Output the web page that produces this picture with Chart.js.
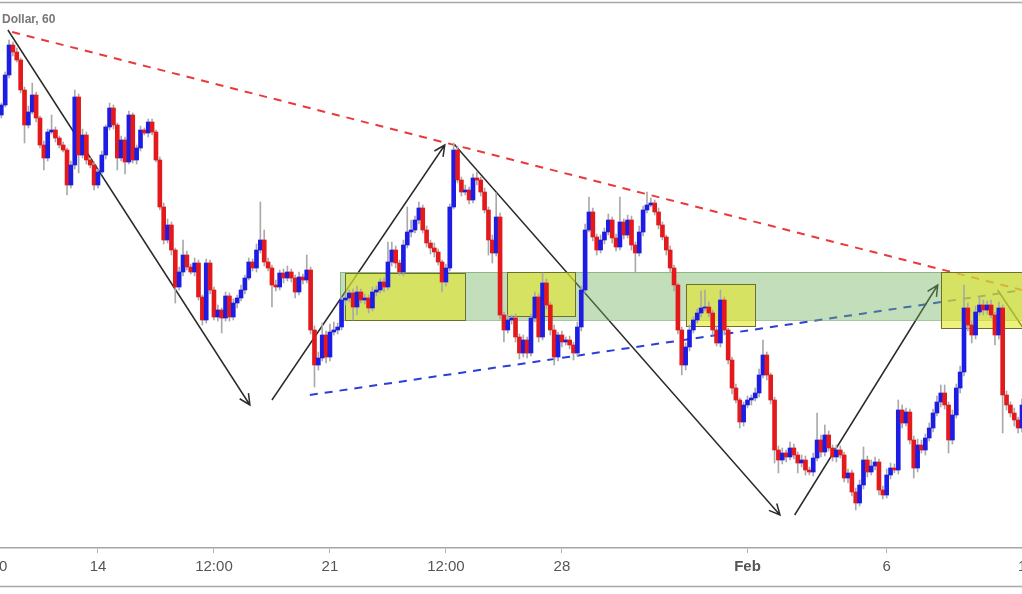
<!DOCTYPE html>
<html>
<head>
<meta charset="utf-8">
<script src="https://cdn.jsdelivr.net/npm/chart.js@4.4.1/dist/chart.umd.min.js"></script>
<style>
  html, body { margin: 0; padding: 0; background: #fff; }
  #wrap { width: 1022px; height: 594px; }
</style>
</head>
<body>
<div id="wrap"><canvas id="chart" width="1022" height="594"></canvas></div>
<script>
// x = 2h candle index (12 per trading day), y = price level
const tickPositions = [-0.6, 25, 55, 85, 115, 145, 193, 229, 265];
const tickLabels = ["10", "14", "12:00", "21", "12:00", "28", "Feb", "6", "11"];

const firstOpen = 485;
const closes = [
  495,525,555,548,540,510,475,488,505,482,455,442,468,470,462,455,450,415,435,503,
  445,465,440,435,415,428,445,473,492,475,442,460,438,485,440,452,470,467,478,468,
  440,393,360,375,350,313,328,345,333,328,337,303,280,337,310,283,290,282,304,283,
  297,302,310,322,338,332,350,360,338,332,315,313,327,322,328,322,308,323,320,330,
  270,235,242,265,243,268,270,273,300,302,307,293,308,300,302,292,308,310,318,313,
  338,350,337,328,355,368,370,380,392,370,357,352,348,338,318,332,393,450,420,408,
  410,400,422,420,408,390,360,347,383,285,270,280,282,263,247,260,247,282,303,263,
  317,295,270,243,265,258,260,255,247,273,310,370,388,363,350,360,368,380,362,353,
  378,365,380,355,347,368,390,395,397,388,375,363,350,332,315,270,235,253,270,280,
  287,292,293,287,270,257,300,270,240,212,200,178,195,200,202,207,225,245,225,200,
  150,140,147,143,152,145,137,140,130,128,142,160,148,165,152,143,150,145,122,127,
  108,97,115,140,128,134,138,110,105,125,132,130,190,177,188,160,132,155,150,162,
  172,187,198,207,195,160,185,212,228,292,275,265,288,295,290,295,285,265,292,205,
  195,187,180,172,195
];
const wickUp = [
  2,3,5,3,4,2,3,6,12,3,2,4,3,15,3,2,3,2,4,7,
  3,6,3,2,3,3,4,2,5,3,2,4,3,4,2,3,4,2,3,3,
  2,3,4,6,3,2,5,15,4,3,5,3,2,4,3,3,5,2,4,3,
  4,3,5,3,4,3,6,38,10,4,3,5,3,4,6,3,3,5,3,15,
  3,4,6,12,4,8,8,4,3,5,3,4,6,3,4,3,5,4,3,4,
  20,8,4,3,5,25,10,4,6,3,4,3,5,3,2,4,3,7,4,3,
  5,3,4,6,3,4,3,5,24,4,3,5,3,4,3,5,3,4,5,3,
  10,4,3,5,3,4,3,4,3,5,4,6,15,4,3,5,4,6,3,4,
  25,3,5,4,3,6,4,13,5,3,4,3,2,4,3,2,3,4,5,3,
  4,17,17,5,3,4,10,3,2,3,4,2,3,4,3,5,6,15,3,2,
  3,4,5,3,6,4,3,5,4,3,5,27,5,10,4,3,5,4,3,4,
  3,4,5,13,4,6,5,3,4,6,5,4,10,5,4,3,4,6,5,4,
  5,4,6,8,8,3,5,4,6,23,5,4,6,8,5,4,5,3,6,3,
  4,3,5,3,6
];
const wickDown = [
  3,2,3,4,2,3,18,3,2,4,3,12,3,2,4,3,2,10,3,4,
  18,3,4,3,5,3,2,4,3,4,12,3,12,2,3,4,3,2,4,3,
  2,3,4,3,5,16,3,4,3,2,4,3,5,3,4,3,4,15,3,4,
  3,5,3,4,2,3,4,3,4,3,22,4,3,5,3,4,6,3,4,3,
  4,22,5,3,6,4,3,4,3,5,4,13,8,3,4,5,3,4,3,5,
  3,4,5,3,4,3,5,3,4,3,4,6,5,3,10,4,3,2,3,4,
  3,4,3,5,4,3,15,10,3,4,12,3,4,5,6,4,5,3,4,5,
  3,4,5,8,4,5,3,4,7,3,4,3,2,4,5,3,4,3,5,4,
  3,4,3,5,20,3,4,3,2,3,4,3,5,4,6,4,10,5,4,3,
  3,4,3,4,5,3,4,5,4,6,3,6,4,3,5,3,4,3,5,4,
  13,13,4,5,3,4,10,4,5,3,4,3,5,4,3,4,5,3,4,5,
  4,7,3,4,5,3,4,5,4,3,4,3,4,5,3,4,10,4,3,5,
  3,4,3,5,4,13,4,3,5,4,6,8,4,3,5,4,3,10,4,38,
  5,4,6,5,4
];

// drawing annotations, in [candle index, price] coordinates
const redTrend = [[2.8, 568], [266, 308]];
const blueTrend = [[79.8, 205], [266, 311]];
const arrows = [
  [[1.7, 570], [64.3, 195], true],
  [[70.0, 200], [114.7, 455], true],
  [[117.3, 455], [201.4, 85], true],
  [[205.2, 85], [242.2, 315], true],
  [[257.7, 310], [266, 262], false]
];
const greenZone = [87.6, 266, 280, 328];
const yellowZones = [
  [88.9, 119.9, 280, 327],
  [130.8, 148.4, 284, 328],
  [177.1, 194.9, 274, 316],
  [243.0, 266, 272, 328]
];

const UP = "#1c1ce4";
const DOWN = "#e3191c";

const opens = closes.map((c, i) => (i === 0 ? firstOpen : closes[i - 1]));
const bodies = closes.map((c, i) => ({ x: i, y: [opens[i], c] }));
const wicks = closes.map((c, i) => ({
  x: i,
  y: [Math.min(opens[i], c) - wickDown[i], Math.max(opens[i], c) + wickUp[i]]
}));
const bodyColors = closes.map((c, i) => (c >= opens[i] ? UP : DOWN));

const overlay = {
  id: "overlay",
  beforeDatasetsDraw(chart) {
    const { ctx, chartArea: a, scales: { x, y } } = chart;
    const px = (p) => [x.getPixelForValue(p[0]), y.getPixelForValue(p[1])];
    ctx.save();
    ctx.beginPath();
    ctx.rect(a.left, a.top, a.right - a.left, a.bottom - a.top);
    ctx.clip();

    const dashed = (line, color) => {
      const p0 = px(line[0]), p1 = px(line[1]);
      ctx.beginPath();
      ctx.setLineDash([8, 7]);
      ctx.strokeStyle = color;
      ctx.lineWidth = 2;
      ctx.moveTo(p0[0], p0[1]);
      ctx.lineTo(p1[0], p1[1]);
      ctx.stroke();
      ctx.setLineDash([]);
    };
    dashed(redTrend, "#e83a3a");
    dashed(blueTrend, "#2b3fd6");

    ctx.strokeStyle = "#2b2b2b";
    ctx.lineWidth = 1.5;
    arrows.forEach(([from, to, head]) => {
      const p0 = px(from), p1 = px(to);
      ctx.beginPath();
      ctx.moveTo(p0[0], p0[1]);
      ctx.lineTo(p1[0], p1[1]);
      if (head) {
        const ang = Math.atan2(p1[1] - p0[1], p1[0] - p0[0]);
        const len = 12, spread = 0.45;
        ctx.moveTo(p1[0] - len * Math.cos(ang - spread), p1[1] - len * Math.sin(ang - spread));
        ctx.lineTo(p1[0], p1[1]);
        ctx.lineTo(p1[0] - len * Math.cos(ang + spread), p1[1] - len * Math.sin(ang + spread));
      }
      ctx.stroke();
    });

    const box = (z, fill, stroke) => {
      const xa = x.getPixelForValue(z[0]), xb = x.getPixelForValue(z[1]);
      const ya = y.getPixelForValue(z[3]), yb = y.getPixelForValue(z[2]);
      ctx.fillStyle = fill;
      ctx.fillRect(xa, ya, xb - xa, yb - ya);
      if (stroke) {
        ctx.strokeStyle = stroke;
        ctx.lineWidth = 1;
        ctx.strokeRect(Math.round(xa) + 0.5, Math.round(ya) + 0.5, Math.round(xb - xa), Math.round(yb - ya));
      }
    };
    box(greenZone, "rgba(112,176,92,0.42)", "rgba(110,160,90,0.6)");
    yellowZones.forEach((z) => box(z, "rgba(228,232,40,0.6)", "#6e6e2e"));
    ctx.restore();
  },
  afterDraw(chart) {
    const { ctx, width } = chart;
    ctx.save();
    ctx.strokeStyle = "#a6a6a6";
    ctx.lineWidth = 1.5;
    ctx.beginPath();
    ctx.moveTo(0, 2.5); ctx.lineTo(width, 2.5);
    ctx.moveTo(0, 586.5); ctx.lineTo(width, 586.5);
    ctx.stroke();
    ctx.fillStyle = "#777";
    ctx.font = "bold 12px 'Liberation Sans', Arial, sans-serif";
    ctx.textBaseline = "alphabetic";
    ctx.fillText("Dollar, 60", 2, 23);
    ctx.restore();
  }
};

new Chart(document.getElementById("chart"), {
  type: "bar",
  data: {
    datasets: [
      {
        label: "Body",
        data: bodies,
        backgroundColor: bodyColors,
        borderWidth: 0,
        barThickness: 4,
        minBarLength: 1,
        grouped: false,
        order: 0
      },
      {
        label: "Wick",
        data: wicks,
        backgroundColor: "#a9a9a9",
        borderWidth: 0,
        barThickness: 1,
        grouped: false,
        order: 1
      }
    ]
  },
  plugins: [overlay],
  options: {
    responsive: false,
    animation: false,
    layout: { padding: { top: 3, left: 0, right: 0, bottom: 8 } },
    plugins: { legend: { display: false }, tooltip: { enabled: false } },
    scales: {
      x: {
        type: "linear",
        min: -0.34,
        max: 264,
        offset: false,
        grid: { display: true, drawOnChartArea: false, drawTicks: true, tickLength: 5, color: "#b3b3b3", offset: false },
        border: { display: true, color: "#a6a6a6", width: 1.5 },
        afterBuildTicks: (scale) => {
          scale.ticks = tickPositions.map((v) => ({ value: v }));
        },
        afterFit: (scale) => {
          scale.height = 38;
          scale.paddingLeft = 0;
          scale.paddingRight = 0;
        },
        ticks: {
          autoSkip: false,
          maxRotation: 0,
          padding: 5,
          color: "#555",
          font: (ctx) => ({
            family: "'Liberation Sans', Arial, sans-serif",
            size: 15,
            weight: ctx.index === 6 ? "bold" : "normal"
          }),
          callback: (value, index) => tickLabels[index]
        }
      },
      y: { display: false, min: 52, max: 597 }
    }
  }
});
</script>
</body>
</html>
